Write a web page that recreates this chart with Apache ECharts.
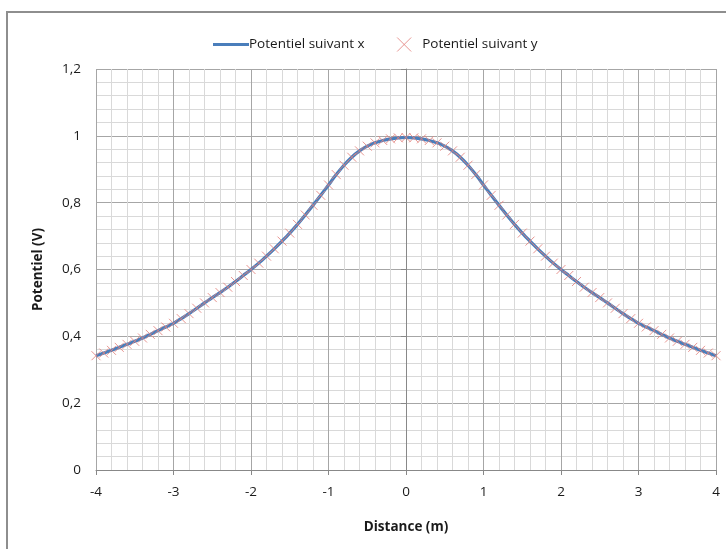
<!DOCTYPE html>
<html><head><meta charset="utf-8">
<script src="https://cdn.jsdelivr.net/npm/echarts@6/dist/echarts.min.js"></script>
<style>html,body{margin:0;padding:0;background:#fff}#c{width:726px;height:549px}</style>
</head><body><div id="c"></div>
<script>
// Distance (m)
const distances = [-4.0,-3.9,-3.8,-3.7,-3.6,-3.5,-3.4,-3.3,-3.2,-3.1,-3.0,-2.9,-2.8,-2.7,-2.6,-2.5,-2.4,-2.3,-2.2,-2.1,-2.0,-1.9,-1.8,-1.7,-1.6,-1.5,-1.4,-1.3,-1.2,-1.1,-1.0,-0.9,-0.8,-0.7,-0.6,-0.5,-0.4,-0.3,-0.2,-0.1,0.0,0.1,0.2,0.3,0.4,0.5,0.6,0.7,0.8,0.9,1.0,1.1,1.2,1.3,1.4,1.5,1.6,1.7,1.8,1.9,2.0,2.1,2.2,2.3,2.4,2.5,2.6,2.7,2.8,2.9,3.0,3.1,3.2,3.3,3.4,3.5,3.6,3.7,3.8,3.9,4.0];
// Potentiel suivant x (V)
const potX = [0.342,0.350,0.358,0.367,0.376,0.385,0.395,0.406,0.417,0.428,0.439,0.453,0.468,0.484,0.500,0.516,0.531,0.547,0.564,0.582,0.600,0.619,0.640,0.662,0.685,0.709,0.735,0.763,0.792,0.822,0.853,0.884,0.912,0.936,0.955,0.969,0.979,0.986,0.991,0.994,0.995,0.994,0.991,0.986,0.979,0.969,0.955,0.936,0.912,0.884,0.853,0.822,0.792,0.763,0.735,0.709,0.685,0.662,0.640,0.619,0.600,0.582,0.564,0.547,0.531,0.516,0.500,0.484,0.468,0.453,0.439,0.428,0.417,0.406,0.395,0.385,0.376,0.367,0.358,0.350,0.342];
// Potentiel suivant y (V)
const potY = [0.342,0.350,0.358,0.367,0.376,0.385,0.395,0.406,0.417,0.428,0.439,0.453,0.468,0.484,0.500,0.516,0.531,0.547,0.564,0.582,0.600,0.619,0.640,0.662,0.685,0.709,0.735,0.763,0.792,0.822,0.853,0.884,0.912,0.936,0.955,0.969,0.979,0.986,0.991,0.994,0.995,0.994,0.991,0.986,0.979,0.969,0.955,0.936,0.912,0.884,0.853,0.822,0.792,0.763,0.735,0.709,0.685,0.662,0.640,0.619,0.600,0.582,0.564,0.547,0.531,0.516,0.500,0.484,0.468,0.453,0.439,0.428,0.417,0.406,0.395,0.385,0.376,0.367,0.358,0.350,0.342];
const seriesNames = ['Potentiel suivant x','Potentiel suivant y'];
const xTitle = 'Distance (m)';
const yTitle = 'Potentiel (V)';

const FONT = 'Open Sans';
const FS = 13.5;
const chart = echarts.init(document.getElementById('c'), null, {renderer:'canvas'});
const crossPath = 'path://M0,0L10,10M10,0L0,10';
chart.setOption({
  animation:false,
  backgroundColor:'#fff',
  textStyle:{fontFamily:FONT},
  graphic:[{type:'rect',shape:{x:7,y:12,width:740,height:560},style:{fill:'none',stroke:'#8e8e8e',lineWidth:2},silent:true,z:-1}],
  legend:{
    top:30, left:208, itemGap:30, itemWidth:36, itemHeight:14,
    textStyle:{fontFamily:FONT,fontSize:FS,color:'#1a1a1a',padding:[0,0,0,-5]},
    data:[
      {name:seriesNames[0],icon:'path://M0,6L36,6L36,9L0,9Z'},
      {name:seriesNames[1],icon:'path://M14,3L22,11M22,3L14,11',itemStyle:{color:'none',borderColor:'#e2837e',borderWidth:1}}
    ]
  },
  grid:{left:96,right:10,top:69,bottom:79,containLabel:false},
  xAxis:{
    type:'value',min:-4,max:4,interval:1,
    name:xTitle,nameLocation:'middle',nameGap:50,
    nameTextStyle:{fontFamily:FONT,fontSize:FS,fontWeight:'bold',color:'#1a1a1a'},
    axisLine:{show:true,onZero:false,lineStyle:{color:'#888',width:1}},
    axisTick:{show:true,length:5,lineStyle:{color:'#888'}},
    axisLabel:{fontFamily:FONT,fontSize:FS,color:'#1a1a1a',margin:15},
    splitLine:{show:true,lineStyle:{color:'#a6a6a6',width:1}},
    minorTick:{show:true,splitNumber:5,length:0},
    minorSplitLine:{show:true,lineStyle:{color:'#d9d9d9',width:1}}
  },
  yAxis:{
    type:'value',min:0,max:1.2,interval:0.2,
    name:yTitle,nameLocation:'middle',nameGap:51,nameRotate:90,
    nameTextStyle:{fontFamily:FONT,fontSize:FS,fontWeight:'bold',color:'#1a1a1a'},
    axisLine:{show:true,lineStyle:{color:'#888',width:1}},
    axisTick:{show:true,length:5,lineStyle:{color:'#888'}},
    axisLabel:{fontFamily:FONT,fontSize:FS,color:'#1a1a1a',margin:15,
      formatter:v=>String(Math.round(v*10)/10).replace('.',',')},
    splitLine:{show:true,lineStyle:{color:'#a6a6a6',width:1}},
    minorTick:{show:true,splitNumber:5,length:0},
    minorSplitLine:{show:true,lineStyle:{color:'#d9d9d9',width:1}}
  },
  series:[
    {name:seriesNames[0],type:'line',showSymbol:false,smooth:0.3,
      data:distances.map((d,i)=>[d,potX[i]]),
      lineStyle:{color:'#4a7ebb',width:3.2},itemStyle:{color:'#4a7ebb'},z:2},
    {name:seriesNames[1],type:'scatter',symbol:crossPath,symbolSize:9,
      data:distances.map((d,i)=>[d,potY[i]]),
      itemStyle:{color:'none',borderColor:'#e2837e',borderWidth:1,opacity:0.85},z:3}
  ]
});
</script></body></html>
